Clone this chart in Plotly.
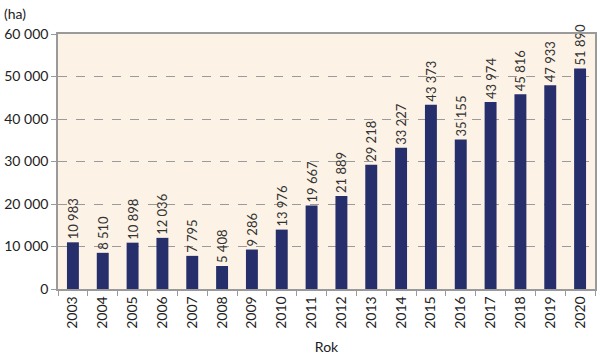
import plotly.graph_objects as go

years = [str(y) for y in range(2003, 2021)]
values = [10983, 8510, 10898, 12036, 7795, 5408, 9286, 13976, 19667, 21889,
          29218, 33227, 43373, 35155, 43974, 45816, 47933, 51890]
y_ticks = [0, 10000, 20000, 30000, 40000, 50000, 60000]

FONT = "Lato, Open Sans, sans-serif"
GRAY = "#9a9a9a"

fig = go.Figure(go.Bar(
    x=years, y=values,
    marker=dict(color="#262e6b", line=dict(width=0)),
    width=0.4,
    texttemplate="%{y:,d}", textposition="outside", textangle=-90,
    textfont=dict(size=13, color="#333333", family=FONT),
    cliponaxis=False,
))

fig.update_layout(
    width=600, height=360,
    margin=dict(l=58, r=5, t=34, b=71, autoexpand=False),
    paper_bgcolor="white", plot_bgcolor="#fcf2e6",
    separators=". ",
    uniformtext=dict(minsize=13, mode="show"),
    font=dict(family=FONT, size=14, color="#222222"),
    showlegend=False,
    annotations=[dict(text="(ha)", xref="paper", yref="paper", x=-0.105, y=1.0,
                      xanchor="left", yanchor="bottom", yshift=10, showarrow=False,
                      font=dict(size=14, color="#222222"))],
)
fig.update_xaxes(
    type="category", showgrid=False, showline=True, linecolor=GRAY, linewidth=1.5,
    mirror=True, ticks="outside", tickson="boundaries", ticklen=5, tickcolor=GRAY,
    tickangle=-90, tickfont=dict(size=14),
    title=dict(text="Rok", font=dict(size=14), standoff=14),
)
fig.update_yaxes(
    range=[0, 60000], tickvals=y_ticks, tickformat=",d",
    showgrid=True, gridcolor=GRAY, griddash="dash", gridwidth=1,
    showline=True, linecolor=GRAY, linewidth=1.5, mirror=True,
    ticks="outside", ticklen=5, tickcolor=GRAY, tickfont=dict(size=14),
    zeroline=False,
)

fig.write_html("out.html", config={"displayModeBar": False},
               post_script="document.body.style.margin='0';")
